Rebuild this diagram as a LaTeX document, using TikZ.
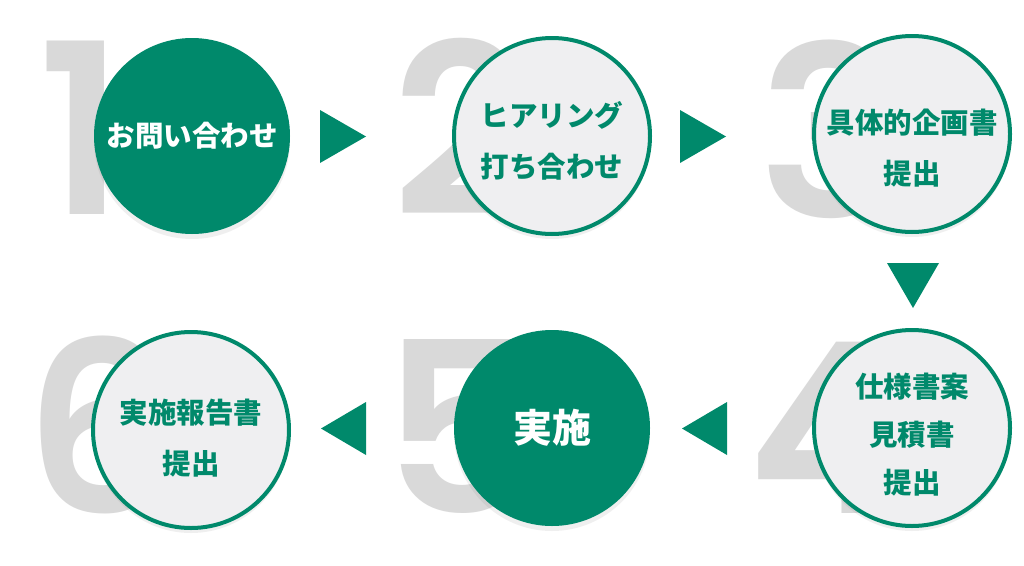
\documentclass[tikz,border=0pt]{standalone}
\usepackage{fontspec}
\usepackage{tikz}
\usetikzlibrary{positioning,shadows}
\newfontfamily\jpfont{Noto Sans CJK JP}[BoldFont={Noto Sans CJK JP Black}]
\newfontfamily\numfont{Poppins}[UprightFont={* SemiBold}]
\definecolor{FlowGreen}{HTML}{00896B}
\definecolor{FlowPale}{HTML}{EFEFF1}
\definecolor{FlowDigit}{HTML}{D9D9D9}

\begin{document}
\begin{tikzpicture}[x=1pt,y=-1pt,
  stepcircle/.style={circle,minimum size=196pt,inner sep=0pt,
    drop shadow={shadow xshift=0pt,shadow yshift=-5pt,opacity=0.12}},
  filled/.style={stepcircle,fill=FlowGreen},
  outlined/.style={stepcircle,draw=FlowGreen,line width=4pt,fill=FlowPale},
  bignum/.style={anchor=base west,inner sep=0pt,text=FlowDigit,
    font=\numfont\fontsize{238}{238}\selectfont},
  steplabel/.style={align=center,inner sep=0pt,text=FlowGreen,
    font=\jpfont\bfseries\fontsize{28.5}{51}\selectfont}]
  \useasboundingbox[fill=white] (0,0) rectangle (1024,565);
  % big step numbers behind the circles
  \node[bignum] (n1) at (38,214) {1};
  \node[bignum] (n2) at (392,215) {2};
  \node[bignum] (n3) at (758,217) {3};
  \node[bignum] (n4) at (747,513) {4};
  \node[bignum] (n5) at (382,513) {5};
  \node[bignum] (n6) at (24,513) {6};
  % steps
  \node[filled] (s1) at (192,136) {};
  \node[outlined] (s2) at (552,136) {};
  \node[outlined] (s3) at (912,134) {};
  \node[outlined] (s4) at (912,428) {};
  \node[filled] (s5) at (552,428) {};
  \node[outlined] (s6) at (191,430) {};
  \node[steplabel,text=white] (l1) at (s1) {お問い合わせ};
  \node[steplabel] (l2) at (552,141) {ヒアリング\\打ち合わせ};
  \node[steplabel] (l3) at (912,148) {具体的企画書\\提出};
  \node[steplabel,font=\jpfont\bfseries\fontsize{28.5}{48}\selectfont] (l4) at (912,435) {仕様書案\\見積書\\提出};
  \node[steplabel,text=white,font=\jpfont\bfseries\fontsize{39}{40}\selectfont] (l5) at (s5) {実施};
  \node[steplabel] (l6) at (191,438) {実施報告書\\提出};
  % arrows
  \fill[FlowGreen] (320,110) -- (320,163) -- (366,136.5) -- cycle;
  \fill[FlowGreen] (680,110) -- (680,163) -- (726,136.5) -- cycle;
  \fill[FlowGreen] (887,263) -- (939,263) -- (913,308) -- cycle;
  \fill[FlowGreen] (727,402) -- (727,455) -- (682,428.5) -- cycle;
  \fill[FlowGreen] (366,402) -- (366,455) -- (321,428.5) -- cycle;
\end{tikzpicture}
\end{document}
